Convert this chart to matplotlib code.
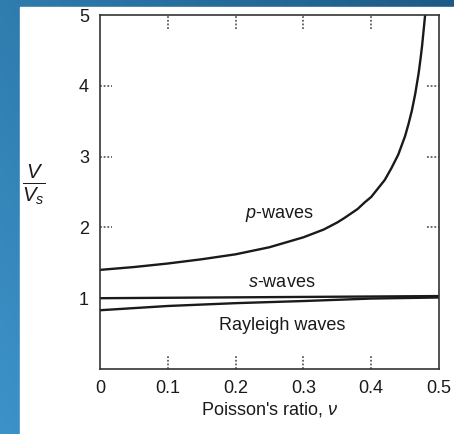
import numpy as np
import matplotlib
matplotlib.use("Agg")
import matplotlib.pyplot as plt
from matplotlib.patches import Rectangle

plt.rcParams["font.family"] = ["Liberation Sans", "DejaVu Sans"]
plt.rcParams["mathtext.fontset"] = "custom"
plt.rcParams["mathtext.it"] = "Liberation Sans:italic"
plt.rcParams["mathtext.rm"] = "Liberation Sans"

# valores (razao de Poisson, V/Vs)
nu_p = [0.0, 0.05, 0.10, 0.15, 0.20, 0.25, 0.30, 0.33, 0.35, 0.36, 0.38,
        0.39, 0.40, 0.41, 0.42, 0.43, 0.44, 0.45, 0.455, 0.46, 0.465,
        0.47, 0.473, 0.475, 0.478, 0.48]
v_p = [1.40, 1.44, 1.49, 1.55, 1.62, 1.72, 1.86, 1.97, 2.07, 2.13, 2.26,
       2.35, 2.43, 2.55, 2.67, 2.84, 3.03, 3.29, 3.46, 3.65, 3.89,
       4.18, 4.40, 4.56, 4.85, 5.05]

nu_s = [0.0, 0.5]
v_s = [1.0, 1.03]

nu_r = [0.0, 0.1, 0.2, 0.3, 0.4, 0.5]
v_r = [0.83, 0.89, 0.93, 0.96, 0.995, 1.01]

xticks = [0, 0.1, 0.2, 0.3, 0.4, 0.5]
xticklabels = ["0", "0.1", "0.2", "0.3", "0.4", "0.5"]
yticks = [1, 2, 3, 4, 5]
marcas_x = [0.1, 0.2, 0.3, 0.4]
marcas_y = [2, 3, 4]

fig = plt.figure(figsize=(4.54, 4.34), dpi=100)

# fundo azul em degrade
fundo = fig.add_axes([0, 0, 1, 1])
gx = np.linspace(0, 1, 200)
gy = np.linspace(0, 1, 200)
GX, GY = np.meshgrid(gx, gy)
t = 0.6 * GX + 0.4 * (1 - GY)
c1 = np.array([0x3c, 0x93, 0xc9]) / 255
c2 = np.array([0x1d, 0x5a, 0x86]) / 255
img = c1[None, None, :] * (1 - t[..., None]) + c2[None, None, :] * t[..., None]
fundo.imshow(img, extent=[0, 1, 0, 1], aspect="auto", origin="upper")
fundo.add_patch(Rectangle((20 / 454, 0), 1, 1 - 7 / 434, color="white"))
fundo.set_xlim(0, 1)
fundo.set_ylim(0, 1)
fundo.axis("off")

ax = fig.add_axes([100 / 454, 1 - 369 / 434, 339 / 454, 354 / 434])
ax.set_facecolor("white")

cor = "#1a1a1a"
ax.plot(nu_p, v_p, color=cor, lw=1.7, solid_joinstyle="round")
ax.plot(nu_s, v_s, color=cor, lw=1.7)
ax.plot(nu_r, v_r, color=cor, lw=1.7)

ax.set_xlim(0, 0.5)
ax.set_ylim(0, 5)

ax.set_xticks(xticks)
ax.set_xticklabels(xticklabels)
ax.set_yticks(yticks)
ax.tick_params(length=0, labelsize=13, colors="#1a1a1a")
ax.tick_params(axis="x", pad=8)
ax.tick_params(axis="y", pad=8)

for s in ax.spines.values():
    s.set_linewidth(1.2)
    s.set_color("#333333")

# marcas pontilhadas
ax.vlines(marcas_x, 0, 0.04, transform=ax.get_xaxis_transform(),
          colors="#444444", linestyles=(0, (1.2, 1.2)), lw=1.1)
ax.vlines(marcas_x, 0.96, 1, transform=ax.get_xaxis_transform(),
          colors="#444444", linestyles=(0, (1.2, 1.2)), lw=1.1)
ax.hlines(marcas_y, 0, 0.035, transform=ax.get_yaxis_transform(),
          colors="#444444", linestyles=(0, (1.2, 1.2)), lw=1.1)
ax.hlines(marcas_y, 0.965, 1, transform=ax.get_yaxis_transform(),
          colors="#444444", linestyles=(0, (1.2, 1.2)), lw=1.1)

ax.text(0.265, 2.18, "$p$-waves", fontsize=13, ha="center", va="center", color="#1a1a1a")
ax.text(0.268, 1.22, "$s$-waves", fontsize=13, ha="center", va="center", color="#1a1a1a")
ax.text(0.268, 0.62, "Rayleigh waves", fontsize=13, ha="center", va="center", color="#1a1a1a")

ax.set_xlabel("Poisson's ratio, $\\nu$", fontsize=13, labelpad=2, color="#1a1a1a")
fig.text(34 / 454, 1 - 185 / 434, "$\\frac{V}{V_s}$", fontsize=21,
         ha="center", va="center", color="#1a1a1a")

fig.savefig("out.png", dpi=100)
